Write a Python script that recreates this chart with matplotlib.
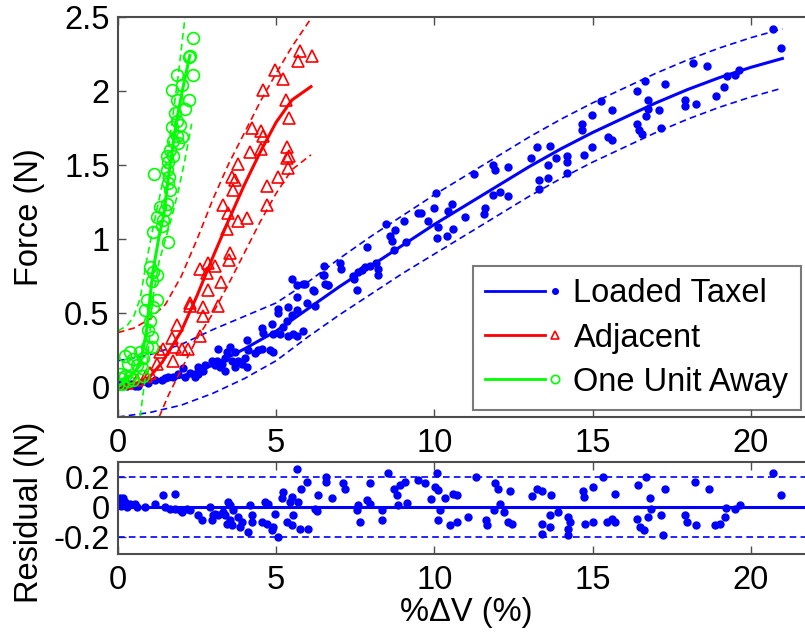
import numpy as np
import matplotlib
matplotlib.use('Agg')
import matplotlib.pyplot as plt
from matplotlib.lines import Line2D
from matplotlib.legend_handler import HandlerBase
from matplotlib.ticker import FormatStrFormatter

plt.rcParams['font.family'] = ['Liberation Sans', 'DejaVu Sans']
plt.rcParams['axes.unicode_minus'] = False

# %% data
# Loaded taxel (blue dots)
blue_x = [20.71, 20.97, 18.18, 18.62, 16.65, 17.30, 16.39, 16.76, 19.63, 19.49, 19.25, 19.15, 18.89, 17.91, 17.91, 18.28,
          17.10, 16.76, 16.68, 16.39, 16.47, 16.55, 17.16, 15.28, 15.63, 14.98, 14.68, 14.68, 15.49, 15.60, 14.98, 14.72,
          14.18, 14.18, 14.18, 13.86, 13.65, 13.26, 13.60, 13.60, 13.31, 13.32, 13.05, 11.86, 11.91, 12.33, 11.84, 12.07,
          12.33, 11.25, 11.60, 11.58, 10.96, 10.60, 10.39, 10.07, 10.12, 9.81, 10.05, 9.98, 10.57, 10.44, 9.47, 9.59,
          9.09, 9.04, 8.77, 8.72, 8.59, 8.65, 8.47, 7.86, 8.17, 8.22, 8.22, 7.96, 7.80, 7.70, 7.59, 7.43, 7.45, 7.54,
          7.01, 7.04, 6.65, 6.51, 6.51, 6.19, 5.86,
          5.49, 5.65, 5.91, 6.49, 6.54, 6.17, 6.64, 5.96, 6.23, 5.65, 5.38, 5.07, 5.07, 5.49, 5.65, 5.33, 5.22, 4.86,
          4.54, 4.59, 4.91, 5.12, 5.38, 5.54, 5.65, 5.86, 4.80, 4.91, 4.43, 4.54, 4.33, 4.12, 4.07, 4.01, 4.07, 3.91,
          3.80, 3.70, 3.59, 3.43, 3.38, 3.28, 3.22, 3.12, 3.06, 2.96, 2.75, 2.70, 2.54, 2.43, 2.28, 2.12, 2.06, 1.91,
          1.75, 1.59, 1.48, 1.38, 1.17, 0.96, 0.85, 0.64, 0.54, 3.70, 3.54, 3.17, 3.38, 2.54, 0.1, 0.2, 0.3, 0.4]
blue_y = [2.42, 2.29, 2.19, 2.17, 2.07, 2.05, 2.00, 1.94, 2.14, 2.11, 2.10, 2.03, 1.97, 1.94, 1.90, 1.91,
          1.87, 1.88, 1.83, 1.78, 1.74, 1.71, 1.75, 1.93, 1.87, 1.84, 1.78, 1.74, 1.69, 1.67, 1.62, 1.57,
          1.56, 1.52, 1.45, 1.55, 1.63, 1.62, 1.50, 1.41, 1.40, 1.34, 1.55, 1.50, 1.47, 1.49, 1.30, 1.32,
          1.29, 1.44, 1.21, 1.17, 1.15, 1.07, 1.02, 1.01, 1.08, 1.12, 1.31, 1.21, 1.24, 1.19, 1.18, 1.18,
          0.98, 1.12, 1.06, 0.93, 1.02, 0.99, 1.10, 0.95, 0.84, 0.80, 0.76, 0.82, 0.81, 0.79, 0.78, 0.75, 0.73, 0.66,
          0.84, 0.80, 0.69, 0.82, 0.76, 0.65, 0.70,
          0.73, 0.69, 0.70, 0.76, 0.70, 0.66, 0.69, 0.57, 0.55, 0.61, 0.54, 0.53, 0.50, 0.49, 0.52, 0.45, 0.41, 0.43,
          0.40, 0.37, 0.36, 0.36, 0.35, 0.36, 0.35, 0.38, 0.25, 0.24, 0.25, 0.26, 0.23, 0.25, 0.32, 0.20, 0.14, 0.16,
          0.18, 0.14, 0.18, 0.24, 0.20, 0.16, 0.14, 0.18, 0.15, 0.18, 0.15, 0.11, 0.09, 0.07, 0.10, 0.07, 0.13, 0.09,
          0.07, 0.07, 0.06, 0.05, 0.05, 0.03, 0.04, 0.01, 0.01, 0.24, 0.27, 0.26, 0.11, 0.14, 0.02, 0.03, 0.01, 0.02]

# Adjacent (red triangles)
red_x = [5.75, 6.12, 5.70, 4.96, 5.22, 4.59, 5.31, 5.41, 4.22, 4.52, 4.57, 4.17, 4.52, 5.35, 5.41, 5.35, 5.38, 5.07,
         3.80, 3.59, 3.70, 3.64, 4.70, 4.70, 3.31, 3.49, 3.80, 4.07, 3.43, 3.54, 3.52, 2.59, 2.85, 3.07, 2.80, 3.24,
         2.85, 2.27, 2.27, 2.70, 3.17, 2.70, 1.85, 1.70, 1.80, 2.22, 2.01, 2.59, 1.43, 1.75, 1.22, 1.33, 0.3, 0.6, 0.9, 1.0]
red_y = [2.27, 2.24, 2.20, 2.14, 2.08, 2.01, 1.94, 1.82, 1.75, 1.73, 1.70, 1.59, 1.61, 1.62, 1.56, 1.55, 1.48, 1.42,
         1.51, 1.42, 1.40, 1.33, 1.36, 1.23, 1.23, 1.18, 1.12, 1.14, 1.07, 0.91, 0.86, 0.80, 0.84, 0.82, 0.77, 0.71,
         0.66, 0.57, 0.55, 0.54, 0.55, 0.48, 0.42, 0.33, 0.27, 0.26, 0.26, 0.35, 0.26, 0.18, 0.16, 0.24, 0.03, 0.05, 0.08, 0.10]

# One unit away (green circles)
green_x = [2.36, 2.27, 2.24, 2.38, 1.85, 2.01, 1.70, 2.25, 1.85, 2.12, 1.80, 1.85, 1.96, 1.70, 1.85, 2.01, 1.75, 1.64,
           1.91, 1.54, 1.59, 1.73, 1.15, 1.54, 1.62, 1.57, 1.64, 1.33, 1.49, 1.54, 1.22,
           1.43, 1.12, 1.38, 1.59, 1.01, 1.12, 1.06, 1.22, 0.91, 1.12, 1.22, 0.85, 1.01, 0.96, 1.06, 0.91, 1.06,
           0.70, 0.38, 0.22, 0.48, 0.80, 0.33, 0.59, 0.75, 0.06, 0.22, 0.38, 0.0, 0.12, 0.33, 0.48, 0.80, 0.06]
green_y = [2.36, 2.24, 2.23, 2.11, 2.11, 2.04, 2.01, 1.94, 1.94, 1.88, 1.85, 1.80, 1.77, 1.76, 1.70, 1.69, 1.66, 1.60,
           1.65, 1.56, 1.52, 1.56, 1.44, 1.47, 1.42, 1.38, 1.33, 1.22, 1.20, 1.24, 1.15,
           1.13, 1.05, 1.09, 0.98, 0.81, 0.78, 0.72, 0.76, 0.59, 0.54, 0.59, 0.52, 0.45, 0.39, 0.34, 0.27, 0.27,
           0.24, 0.24, 0.21, 0.19, 0.20, 0.16, 0.15, 0.13, 0.09, 0.08, 0.07, 0.02, 0.02, 0.04, 0.05, 0.08, 0.06]

# fitted curves and bounds
bfit_x = [0, 1, 2, 3, 4, 5, 6, 7, 8, 9, 10, 11, 12, 13, 14, 15, 16, 17, 18, 19, 20, 21]
bfit_y = [0, 0.03, 0.07, 0.15, 0.26, 0.38, 0.53, 0.68, 0.82, 0.96, 1.10, 1.23, 1.36, 1.49, 1.61, 1.72, 1.82, 1.92, 2.01, 2.09, 2.16, 2.22]
bup_y = [0.18, 0.22, 0.29, 0.39, 0.48, 0.57, 0.71, 0.87, 1.02, 1.16, 1.30, 1.43, 1.56, 1.69, 1.81, 1.92, 2.02, 2.12, 2.21, 2.29, 2.36, 2.42]
blo_y = [-0.20, -0.17, -0.12, -0.04, 0.06, 0.18, 0.34, 0.49, 0.63, 0.77, 0.90, 1.03, 1.16, 1.29, 1.41, 1.52, 1.62, 1.72, 1.81, 1.89, 1.96, 2.02]

rfit_x = [0.2, 0.6, 1.0, 1.4, 2.0, 2.5, 3.0, 3.5, 4.0, 4.5, 5.0, 5.5, 6.1]
rfit_y = [0.01, 0.03, 0.07, 0.17, 0.38, 0.62, 0.88, 1.13, 1.37, 1.59, 1.79, 1.94, 2.03]
rup_x = [0, 0.5, 1.0, 1.5, 2.0, 2.5, 3.0, 3.5, 4.0, 4.5, 5.0, 5.5, 6.1]
rup_y = [0.37, 0.40, 0.46, 0.56, 0.75, 1.00, 1.27, 1.51, 1.72, 1.93, 2.12, 2.30, 2.49]
rlo_x = [1.3, 1.6, 2.0, 2.5, 3.0, 3.5, 4.0, 4.5, 5.0, 5.5, 6.1]
rlo_y = [-0.2, -0.05, 0.12, 0.33, 0.50, 0.70, 0.91, 1.12, 1.31, 1.47, 1.57]

gfit_x = [0, 0.2, 0.5, 0.7, 0.9, 1.1, 1.3, 1.45, 1.6, 1.85, 2.05, 2.27]
gfit_y = [0, 0.04, 0.10, 0.15, 0.38, 0.78, 1.02, 1.17, 1.43, 1.80, 2.02, 2.24]
gup_x = [0, 0.3, 0.5, 0.7, 0.9, 1.1, 1.3, 1.5, 1.7, 1.9, 2.12]
gup_y = [0.38, 0.42, 0.48, 0.60, 0.85, 1.07, 1.27, 1.48, 1.78, 2.10, 2.50]
glo_x = [0.7, 0.8, 0.9, 1.0, 1.1, 1.3, 1.5, 1.7, 1.9, 2.1, 2.33]
glo_y = [-0.2, -0.03, 0.12, 0.35, 0.60, 0.85, 1.00, 1.15, 1.32, 1.52, 1.78]

# residuals of the loaded taxel fit
res_x = [5.65, 6.56, 6.59, 5.96, 5.78, 5.22, 5.17, 5.49, 5.43, 5.68, 6.31, 6.75, 7.12, 7.17, 7.96, 8.52, 8.73, 8.91,
         9.07, 9.49, 9.70, 10.07, 10.02, 10.10, 9.89, 8.81, 9.15, 8.84, 7.86, 7.96, 7.59, 7.54, 7.65, 8.33, 8.33,
         6.22, 6.28, 5.54, 5.33, 5.49, 5.75, 5.99, 4.96, 5.07, 4.86, 4.91, 4.70, 4.54, 4.64, 4.75, 4.17, 4.22, 4.24,
         4.12, 3.91, 3.85, 3.80, 3.64, 3.54, 3.49, 3.54, 3.59, 3.38, 3.33, 3.43, 3.17, 3.06, 2.96, 3.01, 2.91, 2.64,
         2.54, 2.28, 2.17, 2.01, 1.96, 1.80, 1.64, 1.48, 1.43, 1.80, 1.17, 0.85, 0.59, 0.54, 0.38, 0.22, 0.17, 0.12,
         10.33, 10.49, 10.12, 10.17, 10.59, 10.70, 0.05, 0.08, 0.10, 0.30,
         10.73, 11.07, 11.33, 11.62, 11.65, 11.91, 12.02, 12.07, 11.89, 12.21, 12.39, 12.33, 12.46, 13.09, 13.23,
         13.41, 13.70, 13.41, 13.41, 13.65, 13.65, 13.91, 14.21, 14.28, 14.21, 14.23, 14.70, 14.73, 15.02, 14.75,
         15.02, 15.33, 15.70, 15.47, 15.60, 15.70, 16.39, 16.44, 16.49, 16.63, 16.70, 16.81, 16.86, 16.76, 17.16,
         17.23, 17.30, 17.91, 17.97, 18.23, 18.28, 18.68, 18.86, 19.02, 19.18, 19.23, 19.49, 19.65, 20.71, 20.97]
res_y = [0.253, 0.202, 0.169, 0.169, 0.118, 0.098, 0.062, 0.069, 0.036, 0.036, 0.080, 0.062, 0.158, 0.124, 0.158, 0.224,
         0.124, 0.147, 0.169, 0.18, 0.158, 0.224, 0.136, 0.113, 0.053, 0.080, 0.031, 0.013, 0.047, 0.024, 0.018,
         -0.02, -0.098, -0.02, -0.087, -0.009, -0.027, -0.053, -0.098, -0.12, -0.142, -0.142, -0.042, -0.198, -0.153,
         -0.131, -0.109, -0.098, 0.036, 0.024, 0.013, -0.053, -0.098, -0.164, -0.098, -0.131, -0.064, -0.02, 0.013,
         0.036, -0.087, -0.12, -0.053, -0.031, -0.109, -0.053, -0.042, -0.087, -0.053, 0.002, -0.087, -0.053, -0.02,
         -0.009, -0.031, -0.02, -0.009, -0.009, 0.002, 0.080, 0.091, 0.024, 0.002, 0.002, 0.024, 0.024, 0.036, 0.058,
         0.024, 0.058, -0.12, -0.087, -0.02, 0.091, 0.08, 0.06, 0.04, 0.01, 0.0,
         -0.098, -0.064, 0.202, -0.087, -0.12, 0.158, 0.124, 0.024, -0.02, -0.031, 0.107, -0.098, -0.113, 0.076, 0.124,
         0.107, 0.084, -0.109, -0.176, -0.131, -0.049, -0.031, -0.064, -0.098, -0.147, -0.187, 0.107, 0.069, 0.136,
         -0.109, -0.098, 0.202, 0.091, -0.098, -0.076, -0.098, -0.076, 0.147, -0.131, -0.153, 0.202, 0.062, -0.013,
         -0.064, -0.053, -0.187, 0.118, -0.053, -0.098, 0.169, -0.12, 0.118, -0.12, -0.109, -0.064, -0.004, -0.009,
         0.013, 0.224, 0.08]
res_band = 0.2

labels = ['Loaded Taxel', 'Adjacent', 'One Unit Away']

BLUE, RED, GREEN = (0, 0, 1), (1, 0, 0), (0, 1, 0)
DASH = (4, 2.5)
FS = 23.5


# line + marker legend entry (MATLAB style)
class LineThenMarker(HandlerBase):
    def create_artists(self, legend, orig, xdescent, ydescent, width, height, fontsize, trans):
        y = height / 2 - ydescent
        x0 = -xdescent
        seg = Line2D([x0, x0 + width * 0.80], [y, y], color=orig.get_color(), lw=2)
        mk = Line2D([x0 + width * 0.93], [y], ls='none', marker=orig.get_marker(),
                    ms=orig.get_markersize(), mfc=orig.get_markerfacecolor(),
                    mec=orig.get_markeredgecolor(), mew=orig.get_markeredgewidth())
        seg.set_transform(trans)
        mk.set_transform(trans)
        return [seg, mk]


fig = plt.figure(figsize=(8.05, 6.36), dpi=100, facecolor='w')
ax = fig.add_axes([118 / 805, (636 - 417) / 636, 696 / 805, 400 / 636])
axr = fig.add_axes([118 / 805, (636 - 554) / 636, 696 / 805, 92 / 636])

# %% top panel
ax.plot(bfit_x, bup_y, color=BLUE, lw=1.2, dashes=DASH)
ax.plot(bfit_x, blo_y, color=BLUE, lw=1.2, dashes=DASH)
ax.plot(blue_x, blue_y, 'o', color=BLUE, ms=5, mec=BLUE)
ax.plot(bfit_x, bfit_y, color=BLUE, lw=2.2)

ax.plot(rup_x, rup_y, color=RED, lw=1.2, dashes=DASH)
ax.plot(rlo_x, rlo_y, color=RED, lw=1.2, dashes=DASH)
ax.plot(red_x, red_y, '^', color=RED, ms=9, mfc='none', mew=1.2)
ax.plot(rfit_x, rfit_y, color=RED, lw=2.2)

ax.plot(gup_x, gup_y, color=GREEN, lw=1.2, dashes=DASH)
ax.plot(glo_x, glo_y, color=GREEN, lw=1.2, dashes=DASH)
ax.plot(green_x, green_y, 'o', color=GREEN, ms=8.5, mfc='none', mew=1.2)
ax.plot(gfit_x, gfit_y, color=GREEN, lw=2.2)

ax.set_xlim(0, 22)
ax.set_ylim(-0.2, 2.5)
ax.set_xticks([0, 5, 10, 15, 20])
ax.set_yticks([0, 0.5, 1, 1.5, 2, 2.5])
ax.yaxis.set_major_formatter(FormatStrFormatter('%g'))
ax.set_ylabel('Force (N)', fontsize=FS)
ax.yaxis.set_label_coords(-0.105, 0.5)

handles = [Line2D([], [], color=BLUE, marker='o', ms=4, mec=BLUE),
           Line2D([], [], color=RED, marker='^', ms=6, mfc='none', mew=1.2),
           Line2D([], [], color=GREEN, marker='o', ms=6, mfc='none', mew=1.2)]
leg = ax.legend(handles, labels, loc='lower left', bbox_to_anchor=(0.51, 0.0175),
                borderaxespad=0, fontsize=FS, handlelength=2.3, handletextpad=0.4,
                labelspacing=0.4, borderpad=0.38, fancybox=False,
                handler_map={Line2D: LineThenMarker()})
leg.get_frame().set_edgecolor('0.35')
leg.get_frame().set_linewidth(1.5)

# %% residual panel
axr.axhline(res_band, color=BLUE, lw=1.2, dashes=DASH)
axr.axhline(-res_band, color=BLUE, lw=1.2, dashes=DASH)
axr.axhline(0, color=BLUE, lw=2.2)
axr.plot(res_x, res_y, 'o', color=BLUE, ms=5, mec=BLUE)
axr.set_xlim(0, 22)
axr.set_ylim(-0.31, 0.3)
axr.set_xticks([0, 5, 10, 15, 20])
axr.set_yticks([-0.2, 0, 0.2])
axr.yaxis.set_major_formatter(FormatStrFormatter('%g'))
axr.set_ylabel('Residual (N)', fontsize=FS)
axr.yaxis.set_label_coords(-0.105, 0.45)
axr.set_xlabel('%ΔV (%)', fontsize=FS, labelpad=1)

for a in (ax, axr):
    a.tick_params(direction='in', length=6, width=1, labelsize=FS, top=True, right=True,
                  color='0.3', pad=6)
    a.tick_params(axis='x', pad=8)
    for s in a.spines.values():
        s.set_color('0.3')
        s.set_linewidth(1.5)

fig.savefig('out.png', dpi=100, facecolor='w')
